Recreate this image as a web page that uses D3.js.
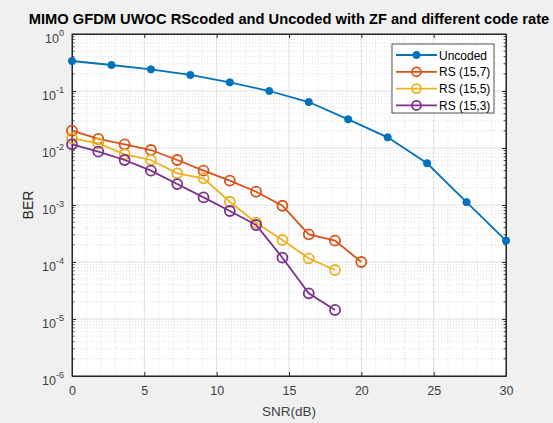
<!DOCTYPE html>
<html><head><meta charset="utf-8">
<script src="https://cdn.jsdelivr.net/npm/d3@7"></script>
<style>body{margin:0;background:#f0f0f0;}svg{display:block;font-family:"Liberation Sans",Arial,sans-serif;}</style>
</head><body><svg id="c" width="553" height="423"></svg>
<script>
const titleText = "MIMO GFDM UWOC RScoded and Uncoded with ZF and different code rate";
const xLabel = "SNR(dB)";
const yLabel = "BER";
const xTicks = [0,5,10,15,20,25,30];
const yTickExps = [0,-1,-2,-3,-4,-5,-6];
const seriesNames = ["Uncoded","RS (15,7)","RS (15,5)","RS (15,3)"];
const colors = ["#0072BD","#D95319","#EDB120","#7E2F8E"];
const snrUncoded = [0,2.727,5.455,8.182,10.909,13.636,16.364,19.091,21.818,24.545,27.273,30];
const berUncoded = [0.336,0.286,0.240,0.191,0.142,0.100,0.064,0.0318,0.0154,0.0054,0.00112,0.000237];
const snrRS = [0,1.818,3.636,5.455,7.273,9.091,10.909,12.727,14.545,16.364,18.182,20];
const berRS7 = [0.0201,0.0144,0.0116,0.00922,0.00616,0.0040,0.00267,0.00171,0.00097,0.000306,0.000237,0.0001];
const berRS5 = [0.0148,0.0121,0.00776,0.00616,0.0036,0.00294,0.00114,0.00049,0.000243,0.000116,0.0000724];
const berRS3 = [0.0116,0.00863,0.00616,0.0040,0.00233,0.00136,0.000785,0.000446,0.000119,0.0000282,0.0000144];

const series = [
  {name:seriesNames[0], x:snrUncoded, y:berUncoded, filled:true},
  {name:seriesNames[1], x:snrRS, y:berRS7, filled:false},
  {name:seriesNames[2], x:snrRS, y:berRS5, filled:false},
  {name:seriesNames[3], x:snrRS, y:berRS3, filled:false}
];

const L=72, R=506, T=34, B=376;
const svg = d3.select("#c");
const x = d3.scaleLinear().domain([0,30]).range([L,R]);
const y = d3.scaleLog().domain([1e-6,1]).range([B,T]);

svg.append("rect").attr("x",L).attr("y",T).attr("width",R-L).attr("height",B-T).attr("fill","#fff");

const g = svg.append("g");
const minorX = d3.range(0,31,1).filter(v=>v%5!==0);
g.selectAll(".mgx").data(minorX).enter().append("line")
 .attr("x1",d=>x(d)).attr("x2",d=>x(d)).attr("y1",T).attr("y2",B)
 .attr("stroke","#c8c8c8").attr("stroke-width",0.6).attr("stroke-dasharray","1,2");
const minorY=[];
for(let e=-6;e<0;e++) for(let m=2;m<=9;m++) minorY.push(m*Math.pow(10,e));
g.selectAll(".mgy").data(minorY).enter().append("line")
 .attr("x1",L).attr("x2",R).attr("y1",d=>y(d)).attr("y2",d=>y(d))
 .attr("stroke","#c8c8c8").attr("stroke-width",0.6).attr("stroke-dasharray","1,2");
g.selectAll(".gx").data(xTicks).enter().append("line")
 .attr("x1",d=>x(d)).attr("x2",d=>x(d)).attr("y1",T).attr("y2",B)
 .attr("stroke","#e0e0e0").attr("stroke-width",1);
g.selectAll(".gy").data(yTickExps).enter().append("line")
 .attr("x1",L).attr("x2",R).attr("y1",d=>y(Math.pow(10,d))).attr("y2",d=>y(Math.pow(10,d)))
 .attr("stroke","#e0e0e0").attr("stroke-width",1);

const axCol="#262626";
const xb = svg.append("g").attr("transform",`translate(0,${B})`)
 .call(d3.axisBottom(x).tickValues(xTicks).tickSizeInner(-4).tickSizeOuter(0).tickPadding(10));
xb.selectAll("text").attr("font-size",12.5).attr("fill","#404040");
const xt = svg.append("g").attr("transform",`translate(0,${T})`)
 .call(d3.axisTop(x).tickValues(xTicks).tickSizeInner(-4).tickSizeOuter(0).tickFormat(""));
const allY = yTickExps.map(e=>Math.pow(10,e));
const yl = svg.append("g").attr("transform",`translate(${L},0)`)
 .call(d3.axisLeft(y).tickValues(allY).tickSizeInner(-4).tickSizeOuter(0).tickFormat(""));
const yr = svg.append("g").attr("transform",`translate(${R},0)`)
 .call(d3.axisRight(y).tickValues(allY).tickSizeInner(-4).tickSizeOuter(0).tickFormat(""));
[L,R].forEach((px,i)=>{
  svg.selectAll(null).data(minorY).enter().append("line")
   .attr("x1",px).attr("x2",i===0?px+2.5:px-2.5).attr("y1",d=>y(d)).attr("y2",d=>y(d))
   .attr("stroke",axCol).attr("stroke-width",0.8);
});
[xb,xt,yl,yr].forEach(a=>{a.select(".domain").attr("stroke",axCol).attr("stroke-width",1);a.selectAll("line").attr("stroke",axCol);});
svg.append("rect").attr("x",L).attr("y",T).attr("width",R-L).attr("height",B-T).attr("fill","none").attr("stroke",axCol).attr("stroke-width",1);

const ylab = svg.append("g");
yTickExps.forEach(e=>{
  const t = ylab.append("text").attr("x",64).attr("y",y(Math.pow(10,e))+9).attr("text-anchor","end")
   .attr("font-size",12.5).attr("fill","#404040");
  t.append("tspan").text("10");
  t.append("tspan").attr("dy",-7).attr("font-size",9).text(String(e));
});

const line = d3.line().x(d=>x(d[0])).y(d=>y(d[1]));
series.forEach((s,i)=>{
  const pts = s.x.slice(0,s.y.length).map((v,k)=>[v,s.y[k]]);
  svg.append("path").datum(pts).attr("d",line).attr("fill","none").attr("stroke",colors[i]).attr("stroke-width",1.8);
  svg.selectAll(null).data(pts).enter().append("circle")
   .attr("cx",d=>x(d[0])).attr("cy",d=>y(d[1]))
   .attr("r",s.filled?3.6:5).attr("fill",s.filled?colors[i]:"none")
   .attr("stroke",colors[i]).attr("stroke-width",s.filled?1:1.8);
});

const lg = svg.append("g");
lg.append("rect").attr("x",392).attr("y",44).attr("width",102).attr("height",69).attr("fill","#fff").attr("stroke","#262626").attr("stroke-width",0.8);
series.forEach((s,i)=>{
  const yy = 55+i*16.8;
  lg.append("line").attr("x1",396).attr("x2",437).attr("y1",yy).attr("y2",yy).attr("stroke",colors[i]).attr("stroke-width",1.8);
  lg.append("circle").attr("cx",416.5).attr("cy",yy).attr("r",s.filled?3.6:4.5)
   .attr("fill",s.filled?colors[i]:"none").attr("stroke",colors[i]).attr("stroke-width",s.filled?1:1.8);
  lg.append("text").attr("x",439).attr("y",yy+4.5).attr("font-size",12).attr("fill","#000").text(s.name);
});

svg.append("text").attr("x",(L+R)/2).attr("y",24).attr("text-anchor","middle").attr("font-weight","bold")
 .attr("font-size",14.7).attr("fill","#000").text(titleText);
svg.append("text").attr("x",(L+R)/2).attr("y",416).attr("text-anchor","middle").attr("font-size",13.5).attr("fill","#404040").text(xLabel);
svg.append("text").attr("transform",`translate(33,${(T+B)/2}) rotate(-90)`).attr("text-anchor","middle").attr("font-size",14).attr("fill","#262626").text(yLabel);
</script></body></html>
